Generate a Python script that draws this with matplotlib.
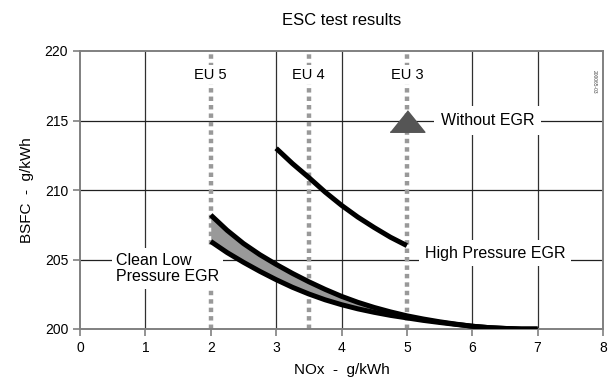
import matplotlib
matplotlib.use("Agg")
import matplotlib.pyplot as plt
import numpy as np

plt.rcParams['font.family'] = ['Liberation Sans', 'DejaVu Sans']

# NOx limits (g/kWh) for the emission stages
eu_labels = ["EU 5", "EU 4", "EU 3"]
eu_nox = [2.0, 3.5, 5.0]

# Without EGR point
no_egr_nox = [5.0]
no_egr_bsfc = [215.0]

# High pressure EGR curve
hp_nox = [3.0, 3.25, 3.5, 3.75, 4.0, 4.25, 4.5, 4.75, 5.0]
hp_bsfc = [213.0, 211.9, 210.9, 209.85, 208.9, 208.05, 207.3, 206.6, 206.0]

# Clean low pressure EGR band (upper / lower edge)
lp_nox = [2.0, 2.25, 2.5, 2.75, 3.0, 3.25, 3.5, 3.75, 4.0, 4.25, 4.5,
          4.75, 5.0, 5.25, 5.5, 5.75, 6.0, 6.25, 6.5, 6.75, 7.0]
lp_upper = [208.2, 207.1, 206.15, 205.35, 204.65, 204.0, 203.4, 202.85, 202.35, 201.92, 201.55,
            201.23, 200.95, 200.72, 200.52, 200.35, 200.2, 200.1, 200.04, 200.0, 200.0]
lp_lower = [206.3, 205.5, 204.8, 204.15, 203.55, 203.0, 202.52, 202.1, 201.75, 201.45, 201.2,
            200.98, 200.8, 200.62, 200.47, 200.33, 200.2, 200.1, 200.04, 200.0, 200.0]

grid_x = [1, 3, 4, 6, 7]
grid_y = [205, 210, 215]

frame = "#808080"

fig = plt.figure(figsize=(6.14, 3.83), dpi=100)
ax = fig.add_axes([80 / 614, 1 - 329 / 383, 523 / 614, 278 / 383])

ax.set_xlim(0, 8)
ax.set_ylim(200, 220)
ax.set_xticks(range(0, 9))
ax.set_yticks([200, 205, 210, 215, 220])

# grid
for gx in grid_x:
    ax.axvline(gx, color="#303030", lw=0.9, zorder=1)
for gy in grid_y:
    ax.axhline(gy, color="#202020", lw=0.9, zorder=1)

# EU limits
for lab, nx in zip(eu_labels, eu_nox):
    ax.axvline(nx, color="#999999", lw=3.2, linestyle=(0, (1, 0.9)),
               dash_capstyle="butt", zorder=2)
    ax.text(nx, 218.3, lab, ha="center", va="center", fontsize=10.5,
            bbox=dict(facecolor="white", edgecolor="none", pad=2), zorder=3)

# low pressure band
ax.fill_between(lp_nox, lp_lower, lp_upper, color="#999999", zorder=4, lw=0)
ax.plot(lp_nox, lp_upper, color="black", lw=3.6, solid_capstyle="butt", zorder=5)
ax.plot(lp_nox, lp_lower, color="black", lw=3.6, solid_capstyle="butt", zorder=5)

# high pressure
ax.plot(hp_nox, hp_bsfc, color="black", lw=3.6, solid_capstyle="butt", zorder=5)

# without EGR
tri = [(-1, -0.62), (1, -0.62), (0, 0.62)]
ax.plot(no_egr_nox, no_egr_bsfc, linestyle="none", marker=tri, markersize=25,
        color="#555555", zorder=6)

ax.text(5.52, 215.0, "Without EGR", ha="left", va="center", fontsize=11.5,
        bbox=dict(facecolor="white", edgecolor="none", pad=5), zorder=3)
ax.text(5.27, 205.45, "High Pressure EGR", ha="left", va="center", fontsize=11.5,
        bbox=dict(facecolor="white", edgecolor="none", pad=4), zorder=3)
ax.text(0.55, 204.35, "Clean Low\nPressure EGR", ha="left", va="center",
        fontsize=11.5, linespacing=1.15,
        bbox=dict(facecolor="white", edgecolor="none", pad=3), zorder=3)

ax.text(0.983, 0.93, "200065-03", transform=ax.transAxes, rotation=-90,
        fontsize=3.5, color="#444444", ha="center", va="top")

for sp in ax.spines.values():
    sp.set_color(frame)
    sp.set_linewidth(1.4)
ax.tick_params(colors=frame, labelcolor="black", labelsize=10, length=5, width=1.2)

ax.set_xlabel("NOx  -  g/kWh", fontsize=11, labelpad=6)
ax.set_ylabel("BSFC  -  g/kWh", fontsize=11, labelpad=8)
ax.set_title("ESC test results", fontsize=12, pad=19)

fig.savefig("out.png", dpi=100)
